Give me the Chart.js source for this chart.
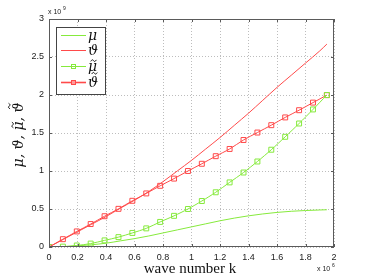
<!DOCTYPE html>
<html>
<head>
<meta charset="utf-8">
<script src="https://cdn.jsdelivr.net/npm/chart.js@4.4.1/dist/chart.umd.min.js"></script>
<style>
  body { margin: 0; background: #fff; }
  #wrap { width: 370px; height: 278px; position: relative; }
</style>
</head>
<body>
<div id="wrap"><canvas id="waveChart"></canvas></div>
<script>
// wave number k (x 10^6) for the smooth curves
const kLine = [0, 0.1, 0.2, 0.3, 0.4, 0.5, 0.6, 0.7, 0.8, 0.9, 1.0, 1.1, 1.2, 1.3, 1.4, 1.5, 1.6, 1.7, 1.8, 1.9, 1.95];
// values x 10^9
const muLine = [0, 0.004, 0.015, 0.03, 0.05, 0.08, 0.11, 0.145, 0.185, 0.225, 0.265, 0.305, 0.345, 0.38, 0.41, 0.435, 0.455, 0.47, 0.48, 0.487, 0.49];
const thetaLine = [0, 0.1, 0.2, 0.3, 0.4, 0.51, 0.615, 0.73, 0.86, 1.0, 1.14, 1.29, 1.44, 1.6, 1.76, 1.93, 2.1, 2.26, 2.42, 2.58, 2.67];

// wave number k for the marked (tilde) curves
const kMarks = [0, 0.0975, 0.195, 0.2925, 0.39, 0.4875, 0.585, 0.6825, 0.78, 0.8775, 0.975,
                1.0725, 1.17, 1.2675, 1.365, 1.4625, 1.56, 1.6575, 1.755, 1.8525, 1.95];
const muTilde = [0, 0.005, 0.02, 0.045, 0.087, 0.13, 0.185, 0.245, 0.33, 0.41, 0.5,
                 0.605, 0.72, 0.85, 0.98, 1.125, 1.28, 1.45, 1.625, 1.81, 2.0];
const thetaTilde = [0, 0.103, 0.205, 0.302, 0.405, 0.502, 0.608, 0.705, 0.805, 0.9, 1.0,
                    1.095, 1.195, 1.29, 1.408, 1.506, 1.603, 1.705, 1.8, 1.9, 1.998];

const xTicks = ['0', '0.2', '0.4', '0.6', '0.8', '1', '1.2', '1.4', '1.6', '1.8', '2'];
const yTicks = ['0', '0.5', '1', '1.5', '2', '2.5', '3'];
// symbol + whether it carries a tilde
const legendNames = [['\u03bc', false], ['\u03d1', false], ['\u03bc', true], ['\u03d1', true]];

const RED = '#ff4a4a';
const GREEN = '#86ea3c';
const SYM_FONT = 'italic 14px "DejaVu Serif", "Liberation Serif", serif';

const pts = (xs, ys) => xs.map((x, i) => ({ x: x, y: ys[i] }));

// draw one greek symbol (left aligned, alphabetic baseline) with optional tilde, return width
function drawSym(ctx, sym, x, y, size) {
  ctx.fillText(sym[0], x, y);
  const w = ctx.measureText(sym[0]).width;
  if (sym[1]) {
    const tall = sym[0] === '\u03d1';
    const cx = x + w / 2 + (tall ? 1.5 : 1);
    const ty = y - size * (tall ? 0.98 : 0.74);
    const h = size * 0.09, hw = size * 0.2;
    ctx.save();
    ctx.lineWidth = 0.9;
    ctx.strokeStyle = ctx.fillStyle;
    ctx.beginPath();
    ctx.moveTo(cx - hw, ty + h * 0.6);
    ctx.bezierCurveTo(cx - hw * 0.6, ty - h, cx - hw * 0.2, ty - h, cx, ty);
    ctx.bezierCurveTo(cx + hw * 0.2, ty + h, cx + hw * 0.6, ty + h, cx + hw, ty - h * 0.6);
    ctx.stroke();
    ctx.restore();
  }
  return w;
}

// frame, inward ticks, exponent notes, axis titles and legend
const decorPlugin = {
  id: 'decor',
  afterDraw(chart) {
    const ctx = chart.ctx;
    const a = chart.chartArea;
    const xs = chart.scales.x, ys = chart.scales.y;
    ctx.save();
    ctx.strokeStyle = '#5a5a5a';
    ctx.lineWidth = 1;
    ctx.strokeRect(a.left + 0.5, a.top + 0.5, a.right - a.left - 1, a.bottom - a.top - 1);
    ctx.beginPath();
    xTicks.forEach((t, i) => {
      const px = Math.round(xs.getPixelForValue(i * 0.2)) + 0.5;
      ctx.moveTo(px, a.bottom); ctx.lineTo(px, a.bottom - 3);
      ctx.moveTo(px, a.top); ctx.lineTo(px, a.top + 3);
    });
    yTicks.forEach((t, i) => {
      const py = Math.round(ys.getPixelForValue(i * 0.5)) + 0.5;
      ctx.moveTo(a.left, py); ctx.lineTo(a.left + 3, py);
      ctx.moveTo(a.right, py); ctx.lineTo(a.right - 3, py);
    });
    ctx.stroke();

    // exponent notes
    ctx.fillStyle = '#222';
    ctx.textBaseline = 'alphabetic';
    ctx.textAlign = 'left';
    ctx.font = '7px "Liberation Sans", Arial, sans-serif';
    ctx.fillText('x 10', a.left - 1, a.top - 5);
    ctx.font = '5px "Liberation Sans", Arial, sans-serif';
    ctx.fillText('9', a.left + 14, a.top - 9);
    ctx.font = '7px "Liberation Sans", Arial, sans-serif';
    ctx.fillText('x 10', a.right - 17, a.bottom + 24);
    ctx.font = '5px "Liberation Sans", Arial, sans-serif';
    ctx.fillText('6', a.right - 2, a.bottom + 20);

    // axis titles
    ctx.fillStyle = '#111';
    ctx.textAlign = 'center';
    ctx.font = '15px "Liberation Serif", "DejaVu Serif", serif';
    ctx.fillText('wave number k', 190, 273);

    ctx.save();
    ctx.translate(23, 135);
    ctx.rotate(-Math.PI / 2);
    ctx.textAlign = 'left';
    ctx.font = SYM_FONT;
    const sep = ', ';
    let total = 0;
    legendNames.forEach((s, i) => {
      total += ctx.measureText(s[0]).width;
      if (i < legendNames.length - 1) total += ctx.measureText(sep).width;
    });
    let x = -total / 2;
    legendNames.forEach((s, i) => {
      x += drawSym(ctx, s, x, 0, 14);
      if (i < legendNames.length - 1) {
        ctx.fillText(sep, x, 0);
        x += ctx.measureText(sep).width;
      }
    });
    ctx.restore();

    // legend
    ctx.fillStyle = '#fff';
    ctx.fillRect(56, 27, 49, 67);
    ctx.strokeStyle = '#444';
    ctx.lineWidth = 1;
    ctx.strokeRect(56.5, 27.5, 49, 67);
    const rows = [35, 50, 66, 82];
    const cols = [GREEN, RED, GREEN, RED];
    rows.forEach((y, i) => {
      ctx.strokeStyle = cols[i];
      ctx.lineWidth = i === 3 ? 1.6 : 1;
      ctx.beginPath();
      ctx.moveTo(61, y + 0.5); ctx.lineTo(86, y + 0.5);
      ctx.stroke();
      if (i >= 2) {
        ctx.lineWidth = 1;
        if (i === 3) { ctx.fillStyle = '#ff9a9a'; ctx.fillRect(71, y - 2, 5, 5); }
        ctx.strokeRect(71.5, y - 2 + 0.5, 4, 4);
      }
      ctx.fillStyle = '#111';
      ctx.textAlign = 'left';
      ctx.font = SYM_FONT;
      drawSym(ctx, legendNames[i], 88, y + 5, 14);
    });
    ctx.restore();
  }
};

new Chart(document.getElementById('waveChart').getContext('2d'), {
  type: 'line',
  data: {
    datasets: [
      { label: 'mu', data: pts(kLine, muLine), borderColor: GREEN, borderWidth: 1,
        pointRadius: 0, tension: 0.4, cubicInterpolationMode: 'monotone', fill: false },
      { label: 'theta', data: pts(kLine, thetaLine), borderColor: RED, borderWidth: 1,
        pointRadius: 0, tension: 0.4, cubicInterpolationMode: 'monotone', fill: false },
      { label: 'mu tilde', data: pts(kMarks, muTilde), borderColor: GREEN, borderWidth: 1,
        pointStyle: 'rect', pointRadius: 3.5, pointBorderWidth: 1, pointBackgroundColor: 'rgba(0,0,0,0)',
        pointBorderColor: GREEN, tension: 0.3, fill: false },
      { label: 'theta tilde', data: pts(kMarks, thetaTilde), borderColor: RED, borderWidth: 1,
        pointStyle: 'rect', pointRadius: 3.5, pointBorderWidth: 1, pointBackgroundColor: 'rgba(0,0,0,0)',
        pointBorderColor: RED, tension: 0.3, fill: false }
    ]
  },
  options: {
    responsive: true,
    maintainAspectRatio: false,
    animation: false,
    layout: { padding: { top: 19, right: 36, left: 0, bottom: 0 } },
    plugins: { legend: { display: false }, tooltip: { enabled: false } },
    scales: {
      x: {
        type: 'linear', min: 0, max: 2,
        afterFit: (s) => { s.height = 31; },
        afterBuildTicks: (s) => { s.ticks = xTicks.map((t, i) => ({ value: i * 0.2 })); },
        grid: { color: '#bdbdbd', drawTicks: false, lineWidth: 1 },
        border: { display: false, dash: [1, 2] },
        ticks: { padding: 5, color: '#222', maxRotation: 0, autoSkip: false,
                 font: { family: '"Liberation Sans", Arial, sans-serif', size: 9 },
                 callback: (v, i) => xTicks[i] }
      },
      y: {
        type: 'linear', min: 0, max: 3,
        afterFit: (s) => { s.width = 49; },
        afterBuildTicks: (s) => { s.ticks = yTicks.map((t, i) => ({ value: i * 0.5 })); },
        grid: { color: '#bdbdbd', drawTicks: false, lineWidth: 1 },
        border: { display: false, dash: [1, 2] },
        ticks: { padding: 5, color: '#222', autoSkip: false,
                 font: { family: '"Liberation Sans", Arial, sans-serif', size: 9 },
                 callback: (v, i) => yTicks[i] }
      }
    }
  },
  plugins: [decorPlugin]
});
</script>
</body>
</html>
